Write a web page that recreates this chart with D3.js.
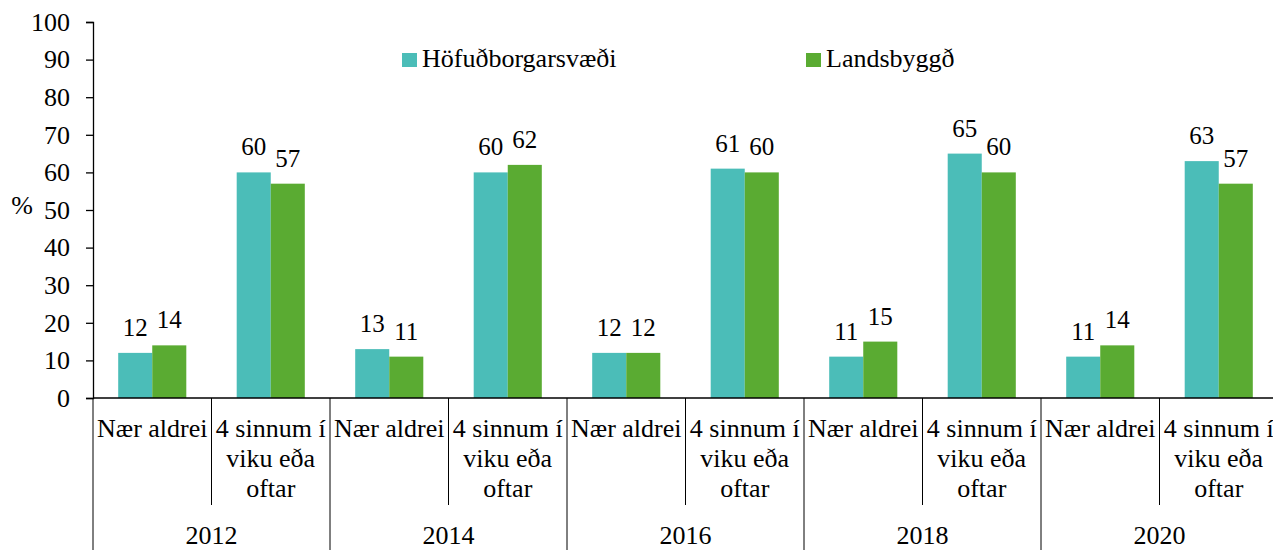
<!DOCTYPE html>
<html>
<head>
<meta charset="utf-8">
<script src="https://cdn.jsdelivr.net/npm/d3@7"></script>
<style>
  body { margin: 0; background: #fff; }
</style>
</head>
<body>
<div id="chart"></div>
<script>
// data
const years = ["2012", "2014", "2016", "2018", "2020"];
const answers = ["Nær aldrei", "4 sinnum í viku eða oftar"];
const answerLines = [["Nær aldrei"], ["4 sinnum í", "viku eða", "oftar"]];
const series = ["Höfuðborgarsvæði", "Landsbyggð"];
const colors = ["#4bbdb8", "#5aab32"];
const hofud = [12, 60, 13, 60, 12, 61, 11, 65, 11, 63];
const lands = [14, 57, 11, 62, 12, 60, 15, 60, 14, 57];
const yTicks = [0, 10, 20, 30, 40, 50, 60, 70, 80, 90, 100];

const W = 1273, H = 550;
const plotLeft = 93, plotTop = 22, plotBottom = 398;
const catW = 118.5;
const FONT = "'Liberation Serif', serif";
const FS = "26px";

const cats = [];
years.forEach((y, yi) => answers.forEach((a, ai) => {
    cats.push({ key: y + "|" + a, year: y, ai: ai, idx: yi * 2 + ai });
}));

const svg = d3.select("#chart").append("svg")
    .attr("width", W)
    .attr("height", H)
    .style("font-family", FONT);

const x0 = d3.scaleBand()
    .domain(cats.map(d => d.key))
    .range([plotLeft, plotLeft + catW * cats.length])
    .padding(0);

const x1 = d3.scaleBand()
    .domain(series)
    .range([0, x0.bandwidth()])
    .paddingInner(0)
    .paddingOuter(0.74);

const y = d3.scaleLinear().domain([0, 100]).range([plotBottom, plotTop]);

// y axis
const yAxis = svg.append("g")
    .attr("transform", "translate(" + plotLeft + ",0)")
    .call(d3.axisLeft(y).tickValues(yTicks).tickSize(7).tickPadding(16));
yAxis.attr("font-family", null).attr("font-size", null);
yAxis.select(".domain").attr("stroke", "#000").attr("stroke-width", 1.3);
yAxis.selectAll(".tick line").attr("stroke", "#000").attr("stroke-width", 1.3);
yAxis.selectAll("text")
    .style("font-family", FONT)
    .style("font-size", FS)
    .attr("fill", "#000");

svg.append("text")
    .attr("x", 22)
    .attr("y", 214)
    .attr("text-anchor", "middle")
    .style("font-family", FONT)
    .style("font-size", FS)
    .text("%");

// bars
const vals = [hofud, lands];
const groups = svg.append("g").selectAll("g")
    .data(cats)
    .join("g")
    .attr("transform", d => "translate(" + x0(d.key) + ",0)");

series.forEach((s, si) => {
    groups.append("rect")
        .attr("x", x1(s))
        .attr("width", x1.bandwidth())
        .attr("y", d => y(vals[si][d.idx]))
        .attr("height", d => plotBottom - y(vals[si][d.idx]))
        .attr("fill", colors[si]);

    groups.append("text")
        .attr("x", x1(s) + x1.bandwidth() / 2)
        .attr("y", d => y(vals[si][d.idx]) - 17)
        .attr("text-anchor", "middle")
        .style("font-family", FONT)
        .style("font-size", "25px")
        .text(d => vals[si][d.idx]);
});

// x axis line
svg.append("line")
    .attr("x1", plotLeft).attr("x2", W)
    .attr("y1", plotBottom).attr("y2", plotBottom)
    .attr("stroke", "#000").attr("stroke-width", 1.3);

// category separators: short ones inside a year, long ones between years
const seps = d3.range(cats.length + 1);
svg.append("g").selectAll("line")
    .data(seps)
    .join("line")
    .attr("x1", i => plotLeft + i * catW)
    .attr("x2", i => plotLeft + i * catW)
    .attr("y1", plotBottom)
    .attr("y2", i => i % 2 === 0 ? H : 505)
    .attr("stroke", "#000")
    .attr("stroke-width", 1);

// category labels
groups.each(function (d) {
    const lines = answerLines[d.ai];
    const t = d3.select(this).append("text")
        .attr("text-anchor", "middle")
        .style("font-family", FONT)
        .style("font-size", FS);
    lines.forEach((l, li) => {
        t.append("tspan")
            .attr("x", x0.bandwidth() / 2)
            .attr("y", 437 + li * 30)
            .text(l);
    });
});

// year labels
svg.append("g").selectAll("text")
    .data(years)
    .join("text")
    .attr("x", (d, i) => plotLeft + catW * (i * 2 + 1))
    .attr("y", 544)
    .attr("text-anchor", "middle")
    .style("font-family", FONT)
    .style("font-size", FS)
    .text(d => d);

// legend
const legendX = [402, 806];
const legend = svg.append("g").selectAll("g")
    .data(series)
    .join("g")
    .attr("transform", (d, i) => "translate(" + legendX[i] + ",53)");
legend.append("rect")
    .attr("width", 15).attr("height", 14)
    .attr("fill", (d, i) => colors[i]);
legend.append("text")
    .attr("x", 20)
    .attr("y", 14)
    .style("font-family", FONT)
    .style("font-size", FS)
    .text(d => d);
</script>
</body>
</html>
